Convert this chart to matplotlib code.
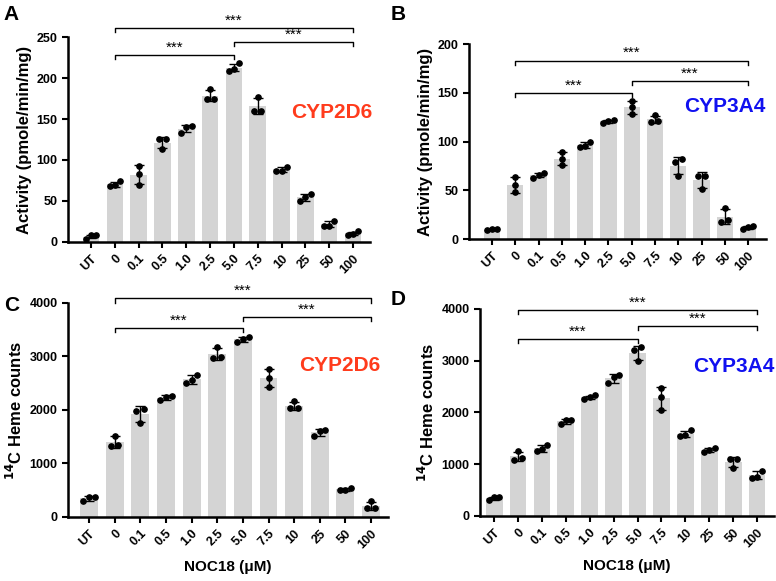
import numpy as np
import matplotlib
matplotlib.use("Agg")
import matplotlib.pyplot as plt

plt.rcParams['font.family'] = ['Liberation Sans', 'DejaVu Sans']
plt.rcParams['font.weight'] = 'bold'

# NOC18 concentrations (uM)
doses = ["UT", "0", "0.1", "0.5", "1.0", "2.5", "5.0", "7.5", "10", "25", "50", "100"]

# triplicates
act_2d6 = [[4, 8, 8], [68, 70, 74], [70, 83, 93], [114, 125, 125], [133, 140, 141],
           [174, 175, 186], [209, 211, 218], [160, 160, 177], [87, 87, 92],
           [50, 55, 58], [20, 20, 26], [9, 10, 13]]
act_3a4 = [[9, 10, 10], [48, 55, 64], [63, 66, 68], [76, 82, 89], [94, 95, 100],
           [119, 121, 122], [128, 135, 142], [120, 121, 127], [65, 79, 82],
           [51, 65, 65], [17, 20, 32], [10, 12, 13]]
heme_2d6 = [[300, 370, 370], [1330, 1350, 1520], [1760, 1990, 2020], [2190, 2250, 2260],
            [2500, 2560, 2650], [2970, 2990, 3170], [3280, 3320, 3370], [2430, 2600, 2760],
            [2030, 2040, 2160], [1510, 1600, 1630], [500, 500, 550], [160, 170, 300]]
heme_3a4 = [[300, 360, 360], [1080, 1130, 1250], [1250, 1290, 1380], [1780, 1850, 1860],
            [2270, 2290, 2330], [2570, 2680, 2720], [2990, 3200, 3260], [2040, 2300, 2480],
            [1540, 1560, 1660], [1240, 1280, 1310], [930, 1100, 1100], [730, 760, 870]]

# bracket heights (data units): long 0->100, 0->5.0, 5.0->100
brk_a = [261, 228, 244]
brk_b = [183, 150, 162]
brk_c = [4085, 3535, 3740]
brk_d = [3980, 3420, 3670]

RED = "#ff3b1c"
BLUE = "#1010f0"


def spread(vals, thr):
    vals = np.asarray(vals, float)
    order = np.argsort(vals)
    offs = np.zeros(len(vals))
    clusters, cur = [], [order[0]]
    for a, b in zip(order[:-1], order[1:]):
        if vals[b] - vals[a] < thr:
            cur.append(b)
        else:
            clusters.append(cur)
            cur = [b]
    clusters.append(cur)
    pat = {1: [0], 2: [-0.15, 0.15], 3: [-0.22, 0, 0.22]}
    for c in clusters:
        for i, o in zip(c, pat[len(c)]):
            offs[i] = o
    return offs


def bracket(ax, x1, x2, y, h):
    ax.plot([x1, x1, x2, x2], [y - h, y, y, y - h], color="black", lw=1, clip_on=False)
    ax.text((x1 + x2) / 2, y + h * 0.1, "***", ha="center", va="bottom",
            fontsize=11, fontweight="normal")


def panel(ax, reps, ymax, yticks, ylabel, brk, name, color, name_xy, xlim, xlabel=None):
    x = np.arange(len(doses))
    means = [np.mean(r) for r in reps]
    sds = [np.std(r, ddof=1) for r in reps]
    ax.bar(x, means, width=0.7, color="#d4d4d4", zorder=1)
    ax.errorbar(x, means, yerr=sds, fmt="none", ecolor="black", elinewidth=1,
                capsize=3.5, capthick=1, zorder=2)
    for i, r in enumerate(reps):
        ax.plot(x[i] + spread(r, 0.03 * ymax), r, "o", color="black", ms=3.8, zorder=3)

    ax.set_xlim(*xlim)
    ax.set_ylim(0, ymax)
    ax.set_yticks(yticks)
    ax.set_xticks(x)
    ax.set_xticklabels(doses, rotation=45, ha="right", rotation_mode="anchor")
    ax.tick_params(labelsize=9, width=1.5, length=4)
    for s in ["top", "right"]:
        ax.spines[s].set_visible(False)
    for s in ["left", "bottom"]:
        ax.spines[s].set_linewidth(1.8)
    ax.set_ylabel(ylabel, fontsize=12, fontweight="bold", labelpad=3)
    if xlabel:
        ax.set_xlabel(xlabel, fontsize=11, fontweight="bold", labelpad=7)

    h = ymax * 0.02
    bracket(ax, 1, 11, brk[0], h)
    bracket(ax, 1, 6, brk[1], h)
    bracket(ax, 6, 11, brk[2], h)
    ax.text(name_xy[0], name_xy[1], name, transform=ax.transAxes, color=color,
            fontsize=15, fontweight="bold", ha="right", va="center")


fig = plt.figure(figsize=(7.76, 5.81), dpi=100)

ax_a = fig.add_axes([0.0876, 0.5835, 0.389, 0.3528])
ax_b = fig.add_axes([0.6044, 0.5886, 0.3827, 0.3356])
ax_c = fig.add_axes([0.0876, 0.1102, 0.4124, 0.3683])
ax_d = fig.add_axes([0.6186, 0.1119, 0.3789, 0.3563])

panel(ax_a, act_2d6, 250, [0, 50, 100, 150, 200, 250], "Activity (pmole/min/mg)",
      brk_a, "CYP2D6", RED, (1.01, 0.63), (-0.97, 11.71))
panel(ax_b, act_3a4, 200, [0, 50, 100, 150, 200], "Activity (pmole/min/mg)",
      brk_b, "CYP3A4", BLUE, (1.0, 0.68), (-0.99, 11.77))
panel(ax_c, heme_2d6, 4000, [0, 1000, 2000, 3000, 4000], r"$^{\mathbf{14}}$C Heme counts",
      brk_c, "CYP2D6", RED, (0.975, 0.71), (-0.82, 11.66), xlabel="NOC18 (\u03bcM)")
panel(ax_d, heme_3a4, 4000, [0, 1000, 2000, 3000, 4000], r"$^{\mathbf{14}}$C Heme counts",
      brk_d, "CYP3A4", BLUE, (1.0, 0.72), (-0.59, 11.71), xlabel="NOC18 (\u03bcM)")

for lab, xy in [("A", (0.005, 0.975)), ("B", (0.503, 0.975)),
                ("C", (0.005, 0.475)), ("D", (0.503, 0.485))]:
    fig.text(xy[0], xy[1], lab, fontsize=15, fontweight="bold", va="center", ha="left")

fig.savefig("out.png", dpi=100)
